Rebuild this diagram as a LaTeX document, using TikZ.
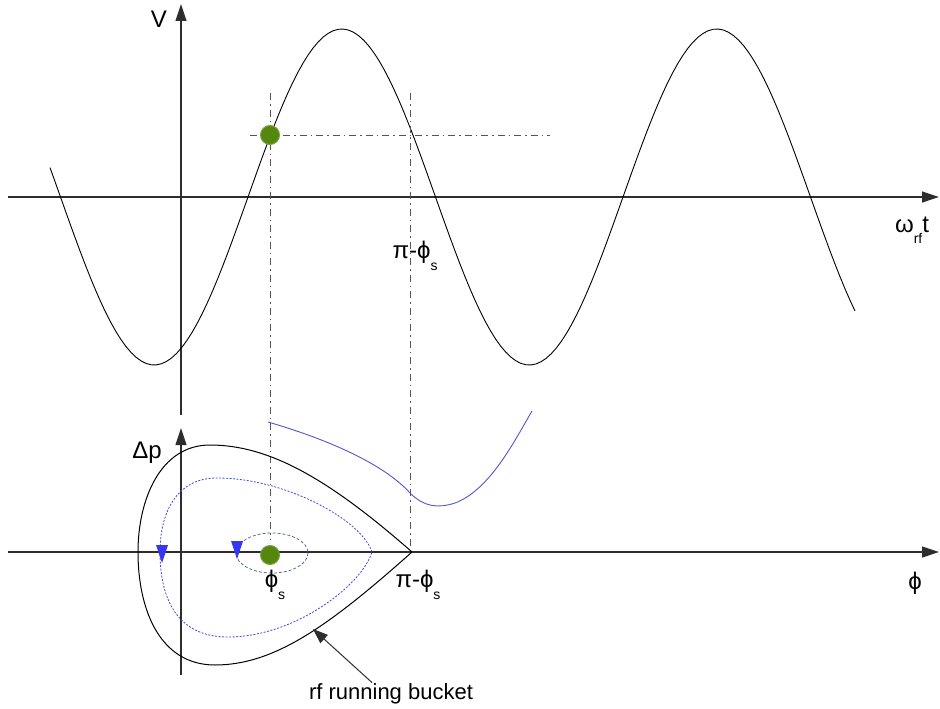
\documentclass[tikz,border=0pt]{standalone}
\usepackage{fontspec}
\setmainfont{Liberation Sans}
\usetikzlibrary{arrows.meta}
\definecolor{axisgray}{RGB}{45,45,45}
\definecolor{guidegray}{RGB}{85,85,85}
\definecolor{orbitblue}{RGB}{70,70,225}
\definecolor{slate}{RGB}{90,110,140}
\definecolor{flowblue}{RGB}{85,85,205}
\definecolor{tipblue}{RGB}{55,55,240}
\definecolor{dotgreen}{RGB}{85,135,15}
\definecolor{dotedge}{RGB}{120,160,70}
\newcommand{\sub}[1]{\raisebox{-0.9ex}{\fontsize{14}{14}\selectfont #1}}
\begin{document}
\begin{tikzpicture}[x=1pt,y=-1pt,
        axis/.style={draw=axisgray, line width=1.2pt, -{Triangle[length=17pt,width=11pt]}},
        wave/.style={black, line width=0.9pt},
        guide/.style={draw=guidegray, line width=1pt, dash pattern=on 7pt off 4pt on 1.5pt off 4pt},
        bucket/.style={black, line width=1pt},
        orbit/.style={draw=orbitblue, line width=0.8pt, dash pattern=on 2pt off 1.5pt},
        smallorbit/.style={draw=slate, line width=0.8pt, dash pattern=on 3pt off 2pt},
        flow/.style={draw=flowblue, line width=0.9pt},
        turn/.style={fill=tipblue},
        dot/.style={circle, fill=dotgreen, draw=dotedge, line width=1pt, minimum size=19pt, inner sep=0pt},
        lbl/.style={font=\fontsize{24}{28}\selectfont, inner sep=1pt},
        pointer/.style={draw=axisgray, line width=1pt, -{Triangle[length=15pt,width=11pt]}}
    ]

        \useasboundingbox (0,0) rectangle (940,709);

        % axes
        \coordinate (tl) at (8,197);
        \coordinate (tr) at (939,197);
        \coordinate (tb) at (181,415);
        \coordinate (tt) at (181,4);
        \coordinate (bl) at (8,552);
        \coordinate (br) at (939,552);
        \coordinate (bb) at (181,675);
        \coordinate (bt) at (181,428);
        \draw[axis] (tl) -- (tr);
        \draw[axis] (tb) -- (tt);
        \draw[axis] (bl) -- (br);
        \draw[axis] (bb) -- (bt);

        % rf voltage
        \draw[wave] plot[domain=50:855, samples=160] (\x, {197-168*sin(0.96*(\x-248))});

        % guide lines
        \coordinate (gh0) at (250,135);
        \coordinate (gh1) at (550,135);
        \coordinate (gs0) at (270,93);
        \coordinate (gs1) at (270,540);
        \coordinate (gp0) at (410,93);
        \coordinate (gp1) at (410,552);
        \draw[guide] (gh0) -- (gh1);
        \draw[guide] (gs0) -- (gs1);
        \draw[guide] (gp0) -- (gp1);

        % bucket separatrix
        \draw[bucket] (412,552) .. controls (330,480) and (270,445) .. (210,445)
            .. controls (160,445) and (138,500) .. (138,552)
            .. controls (138,610) and (160,665) .. (215,665)
            .. controls (275,665) and (330,625) .. (412,552);

        % orbits
        \draw[orbit] (372,552) .. controls (362,520) and (285,478) .. (217,478)
            .. controls (175,478) and (160,515) .. (160,552)
            .. controls (160,600) and (178,637) .. (228,637)
            .. controls (295,637) and (362,585) .. (372,552);
        \draw[smallorbit] (272,553) ellipse [x radius=36, y radius=20];
        \fill[turn] (156,545) -- (168,545) -- (162,563) -- cycle;
        \fill[turn] (231,541) -- (243,541) -- (237,559) -- cycle;

        % unbound motion
        \draw[flow] (268,422) .. controls (330,440) and (385,465) .. (410,493)
            .. controls (425,508) and (440,508) .. (455,503)
            .. controls (490,490) and (515,440) .. (532,411);

        % synchronous particle
        \node[dot] (dottop) at (270,135) {};
        \node[dot] (dotbot) at (270,555) {};

        % labels
        \node[lbl] (vlabel) at (159,19) {V};
        \node[lbl] (wtlabel) at (912,230) {ω\sub{rf}t};
        \node[lbl] (pitop) at (415,256) {π-ϕ\sub{s}};
        \node[lbl] (dplabel) at (147,453) {Δp};
        \node[lbl] (phislabel) at (275,585) {ϕ\sub{s}};
        \node[lbl] (pibot) at (418,585) {π-ϕ\sub{s}};
        \node[lbl] (philabel) at (915,583) {ϕ};
        \node[lbl, font=\fontsize{22}{26}\selectfont] (bucketlabel) at (391,694) {rf running bucket};

        \coordinate (bkt) at (313,629);
        \draw[pointer] ([xshift=-19pt]bucketlabel.north) -- (bkt);

    \end{tikzpicture}
\end{document}
